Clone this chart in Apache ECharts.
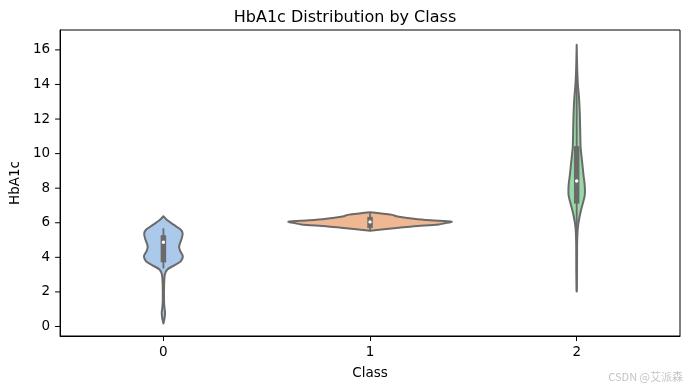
<!DOCTYPE html>
<html><head><meta charset="utf-8">
<script src="https://cdn.jsdelivr.net/npm/echarts@6/dist/echarts.min.js"></script>
<style>html,body{margin:0;padding:0;background:#fff}#c{width:690px;height:390px}</style>
</head><body><div id="c"></div>
<script>
const categories = ['0', '1', '2'];
const yTicks = [0, 2, 4, 6, 8, 10, 12, 14, 16];

// violin outlines: value along y, half-width in category-band units
const class0Values = [6.38, 6.14, 5.86, 5.62, 5.39, 5.10, 4.81, 4.58, 4.35, 4.06, 3.77, 3.54, 3.30, 3.01, 2.38, 1.51, 1.10, 0.81, 0.52, 0.17];
const class0Widths = [0, 0.019, 0.053, 0.082, 0.093, 0.089, 0.080, 0.076, 0.082, 0.094, 0.084, 0.053, 0.019, 0.007, 0.0034, 0.003, 0.005, 0.008, 0.006, 0];
const class1Values = [6.61, 6.54, 6.47, 6.35, 6.23, 6.14, 6.06, 5.97, 5.90, 5.80, 5.71, 5.62, 5.54];
const class1Widths = [0, 0.053, 0.101, 0.140, 0.212, 0.294, 0.395, 0.361, 0.333, 0.212, 0.140, 0.067, 0];
const class2Values = [16.30, 15.42, 14.72, 13.97, 13.28, 12.35, 11.36, 10.38, 9.45, 8.75, 8.29, 7.88, 7.54, 7.13, 6.72, 6.32, 5.86, 5.45, 4.70, 3.25, 2.03];
const class2Widths = [0, 0.0014, 0.003, 0.006, 0.011, 0.015, 0.017, 0.019, 0.027, 0.033, 0.038, 0.040, 0.0385, 0.030, 0.021, 0.0135, 0.007, 0.004, 0.002, 0.0015, 0];

// inner box statistics
const whiskerLow = [3.36, 5.55, 2.03];
const q1 = [3.71, 5.70, 7.11];
const median = [4.87, 6.05, 8.42];
const q3 = [5.28, 6.34, 10.43];
const whiskerHigh = [5.68, 6.55, 14.8];

const fillColors = ['#abc9ea', '#efb792', '#98daa7'];
const lineGray = '#6a6a6a';

const profiles = [
  {values: class0Values, widths: class0Widths},
  {values: class1Values, widths: class1Widths},
  {values: class2Values, widths: class2Widths}
];

const chart = echarts.init(document.getElementById('c'), null, {renderer: 'canvas'});
const font = 'DejaVu Sans';

function renderViolin(params, api) {
  const i = api.value(0);
  const prof = profiles[i];
  const band = api.size([1, 0])[0];
  const left = [], right = [];
  for (let k = 0; k < prof.values.length; k++) {
    const p = api.coord([i, prof.values[k]]);
    left.push([p[0] - prof.widths[k] * band, p[1]]);
    right.push([p[0] + prof.widths[k] * band, p[1]]);
  }
  const pts = left.concat(right.reverse());
  const wl = api.coord([i, whiskerLow[i]]);
  const wh = api.coord([i, whiskerHigh[i]]);
  const b1 = api.coord([i, q1[i]]);
  const b3 = api.coord([i, q3[i]]);
  const md = api.coord([i, median[i]]);
  return {
    type: 'group',
    children: [
      {type: 'polygon', shape: {points: pts, smooth: 0.25},
       style: {fill: fillColors[i], stroke: lineGray, lineWidth: 2, lineJoin: 'round'}},
      {type: 'line', shape: {x1: wl[0], y1: wl[1], x2: wh[0], y2: wh[1]},
       style: {stroke: lineGray, lineWidth: 1.8}},
      {type: 'line', shape: {x1: b1[0], y1: b1[1], x2: b3[0], y2: b3[1]},
       style: {stroke: lineGray, lineWidth: 5.5, lineCap: 'butt'}},
      {type: 'circle', shape: {cx: md[0], cy: md[1], r: 1.7},
       style: {fill: '#ffffff', stroke: null}}
    ]
  };
}

function renderYTick(params, api) {
  const p = api.coord([0, api.value(1)]);
  const x0 = params.coordSys.x;
  return {type: 'line', shape: {x1: x0 - 5, y1: p[1], x2: x0, y2: p[1]},
          style: {stroke: '#000', lineWidth: 1}};
}

chart.setOption({
  animation: false,
  backgroundColor: '#ffffff',
  title: {
    text: 'HbA1c Distribution by Class',
    left: 'center', top: 5,
    textStyle: {fontFamily: font, fontSize: 16, fontWeight: 'normal', color: '#000'}
  },
  grid: {left: 57, right: 10, top: 30, bottom: 54, show: true, borderColor: '#000', borderWidth: 1, backgroundColor: 'transparent'},
  xAxis: {
    type: 'category', data: categories,
    name: 'Class', nameLocation: 'middle', nameGap: 30,
    nameTextStyle: {fontFamily: font, fontSize: 13.5, color: '#000'},
    axisLine: {show: true, onZero: false, lineStyle: {color: '#000', width: 1}},
    axisTick: {show: true, alignWithLabel: true, length: 5, lineStyle: {color: '#000', width: 1}},
    axisLabel: {fontFamily: font, fontSize: 13.5, color: '#000', margin: 9},
    splitLine: {show: false}
  },
  yAxis: {
    type: 'value', min: -0.55, max: 17.15, minInterval: 2, maxInterval: 2, splitNumber: 9,
    name: 'HbA1c', nameLocation: 'middle', nameGap: 28,
    nameTextStyle: {fontFamily: font, fontSize: 13.5, color: '#000'},
    axisLine: {show: true, onZero: false, lineStyle: {color: '#000', width: 1}},
    axisTick: {show: false},
    axisLabel: {fontFamily: font, fontSize: 13.5, color: '#000', margin: 10,
      showMinLabel: false, showMaxLabel: false,
      formatter: v => (yTicks.indexOf(v) >= 0 ? String(v) : '')},
    splitLine: {show: false}
  },
  graphic: [{
    type: 'text', right: 7, bottom: 8,
    style: {text: 'CSDN @艾派森', fill: '#c4c4c4', fontSize: 11, fontFamily: 'Noto Sans CJK SC'}
  }],
  series: [
    {type: 'custom', renderItem: renderViolin, data: categories.map((c, i) => [i]), clip: false, z: 3},
    {type: 'custom', renderItem: renderYTick, data: yTicks.map(v => [0, v]), clip: false, z: 4, silent: true}
  ]
});
</script></body></html>
